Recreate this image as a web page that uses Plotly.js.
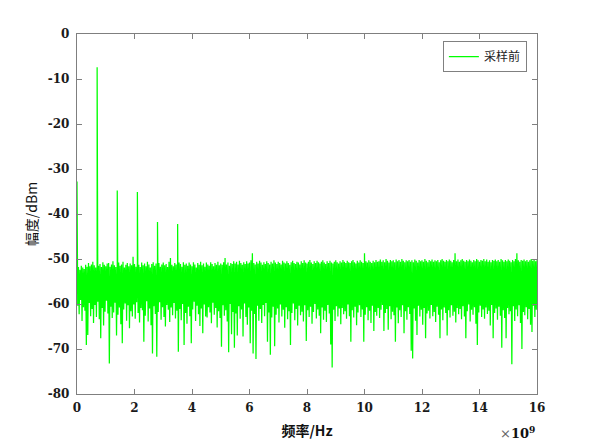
<!DOCTYPE html>
<html>
<head>
<meta charset="utf-8">
<script src="https://cdn.plot.ly/plotly-3.0.1.min.js"></script>
<style>html,body{margin:0;padding:0;background:#fff;}#chart{width:593px;height:443px;}</style>
</head>
<body>
<div id="chart"></div>
<script>
// Frequency grid step (in units of 1e9 Hz)
const freqStepGHz = 0.025;

// Noise-floor spectrum level (dBm), one value per grid step from 0 to 16
const noiseDbm = [
-52.1,-60.4,-51.8,-62.3,-52.4,-59.1,-51.5,-63.8,-51.9,-60.7,-52.2,-61.5,-51.3,-69.1,-51.7,-66.9,-50.9,-59.8,-51.6,-62.7,
-51.2,-61.1,-50.6,-64.2,-51.4,-60.2,-51.9,-62.9,-50.8,-59.5,-51.5,-63.4,-51.1,-67.6,-51.8,-60.9,-50.7,-64.8,-51.3,-61.7,
-51.6,-59.3,-51.0,-62.1,-50.9,-73.2,-51.7,-60.6,-51.2,-63.1,-50.5,-61.9,-51.4,-59.7,-51.8,-67.0,-51.1,-62.4,-50.8,-60.8,
-51.5,-64.5,-51.2,-68.7,-50.6,-61.2,-51.9,-59.9,-51.3,-63.7,-50.9,-60.3,-51.6,-65.4,-51.0,-61.6,-51.4,-62.8,-49.5,-60.1,
-51.1,-63.3,-51.7,-59.6,-50.7,-62.0,-51.3,-64.1,-51.8,-60.9,-50.8,-61.4,-51.4,-68.4,-51.0,-62.6,-51.6,-59.4,-50.6,-63.9,
-51.2,-61.0,-51.9,-64.7,-51.1,-71.0,-50.7,-60.5,-51.5,-62.2,-51.0,-71.7,-51.3,-61.8,-50.9,-59.6,-51.7,-63.5,-51.2,-60.7,
-50.8,-62.9,-51.4,-65.0,-51.1,-60.2,-51.8,-61.3,-50.6,-64.0,-49.8,-60.8,-51.3,-62.5,-51.6,-59.8,-50.9,-63.2,-51.2,-61.5,
-51.5,-70.6,-50.8,-61.1,-51.1,-63.6,-51.7,-60.0,-50.7,-69.1,-51.3,-62.0,-51.0,-64.4,-51.5,-60.6,-50.8,-62.7,-51.2,-68.7,
-51.6,-61.2,-50.7,-59.5,-51.2,-63.8,-51.9,-60.4,-50.9,-62.3,-51.3,-64.9,-50.6,-61.0,-51.4,-66.5,-51.0,-60.1,-51.7,-62.8,
-50.8,-63.0,-51.2,-60.7,-51.5,-61.9,-50.7,-64.3,-51.1,-59.7,-51.6,-62.4,-50.9,-60.9,-51.3,-65.2,-50.6,-61.6,-51.4,-63.1,
-51.0,-69.5,-51.3,-60.3,-50.7,-62.6,-49.8,-61.4,-51.2,-63.9,-50.8,-70.7,-51.5,-60.0,-50.9,-66.7,-51.1,-61.8,-50.5,-69.7,
-51.0,-62.1,-50.6,-67.0,-51.2,-60.5,-50.4,-63.3,-50.9,-61.2,-51.3,-67.2,-50.7,-59.9,-51.1,-62.9,-50.5,-64.6,-51.0,-60.8,
-50.8,-68.7,-50.3,-61.5,-48.7,-71.0,-50.9,-62.2,-51.2,-72.2,-50.6,-60.4,-51.0,-63.7,-50.4,-61.1,-50.8,-64.2,-51.3,-60.2,
-50.7,-62.7,-51.1,-59.8,-50.5,-68.4,-50.9,-61.9,-51.2,-71.3,-50.6,-63.0,-51.0,-60.6,-50.3,-69.4,-50.8,-62.4,-51.1,-61.0,
-50.6,-64.1,-50.9,-60.1,-51.2,-62.8,-50.4,-61.3,-50.8,-65.3,-51.0,-60.7,-50.5,-63.4,-50.9,-61.6,-51.3,-69.1,-50.7,-62.0,
-50.4,-59.9,-50.9,-63.6,-51.1,-61.1,-50.6,-64.8,-50.8,-60.4,-51.2,-62.5,-50.5,-61.7,-50.9,-63.9,-50.3,-60.3,-50.8,-68.2,
-51.0,-61.4,-50.6,-62.9,-50.2,-60.6,-50.8,-64.4,-51.1,-61.8,-50.5,-60.0,-50.9,-63.2,-50.4,-61.2,-50.7,-62.6,-51.0,-66.5,
-50.6,-60.8,-50.3,-63.5,-50.8,-61.5,-51.1,-64.0,-50.5,-60.2,-50.9,-62.1,-50.4,-69.0,-50.8,-74.1,-51.0,-61.3,-50.6,-63.8,
-50.3,-60.5,-50.7,-62.8,-51.0,-61.0,-50.5,-64.5,-50.8,-60.9,-50.2,-62.3,-50.6,-61.6,-50.9,-63.3,-50.4,-60.1,-50.7,-62.7,
-50.9,-68.4,-50.5,-61.4,-50.2,-63.0,-50.7,-60.6,-51.0,-64.7,-50.4,-61.9,-50.8,-60.3,-50.3,-62.9,-50.6,-61.2,-50.9,-68.4,
-48.7,-62.4,-50.5,-60.7,-50.8,-63.6,-50.3,-61.5,-50.6,-64.2,-50.9,-60.4,-50.4,-66.0,-50.7,-61.8,-50.2,-62.6,-50.6,-60.9,
-50.5,-63.1,-50.1,-61.3,-50.6,-60.2,-50.3,-66.0,-50.7,-62.0,-50.0,-61.1,-50.4,-65.7,-50.8,-60.5,-50.2,-63.4,-50.5,-61.7,
-50.3,-62.5,-50.7,-68.4,-50.1,-60.8,-50.5,-64.3,-50.2,-61.4,-50.6,-62.9,-50.0,-60.3,-50.4,-66.5,-50.7,-61.6,-50.3,-63.5,
-50.5,-60.7,-50.2,-62.2,-50.6,-70.4,-50.3,-72.1,-50.7,-61.0,-50.1,-63.7,-50.4,-66.9,-50.8,-60.4,-50.2,-62.8,-50.5,-61.3,
-50.3,-64.6,-50.6,-60.9,-50.0,-67.6,-50.4,-62.1,-50.7,-61.5,-50.2,-63.2,-50.5,-60.2,-50.1,-62.7,-50.6,-61.8,-50.3,-64.0,
-50.5,-60.6,-50.2,-62.4,-50.7,-67.6,-50.3,-61.2,-50.0,-63.6,-50.4,-60.8,-50.6,-62.0,-50.2,-67.0,-50.5,-61.4,-50.1,-63.0,
-50.4,-60.3,-50.7,-62.6,-50.2,-61.7,-48.7,-64.1,-50.5,-60.9,-50.1,-62.3,-50.6,-61.1,-50.3,-63.4,-50.0,-60.5,-50.4,-62.8,
-50.6,-67.6,-50.2,-61.6,-50.5,-60.1,-50.1,-63.9,-50.4,-61.3,-50.7,-62.4,-50.2,-60.7,-50.5,-64.4,-50.0,-69.1,-50.3,-61.9,
-50.6,-60.4,-50.2,-62.9,-50.4,-61.2,-50.0,-63.3,-50.5,-60.8,-50.1,-62.2,-50.6,-61.5,-50.3,-64.8,-50.7,-60.2,-50.2,-67.6,
-50.4,-62.0,-50.1,-61.0,-50.5,-63.5,-50.2,-60.6,-50.6,-62.6,-50.0,-69.7,-50.3,-61.4,-50.6,-63.1,-50.2,-67.6,-50.5,-60.9,
-50.1,-62.3,-50.4,-61.6,-50.7,-73.4,-50.2,-60.5,-50.5,-63.8,-50.0,-61.2,-48.7,-62.7,-50.3,-60.3,-50.6,-64.2,-50.2,-70.0,
-50.4,-61.8,-50.1,-62.5,-50.5,-60.7,-50.2,-63.4,-50.6,-61.1,-50.3,-64.6,-50.0,-66.2,-50.4,-60.4,-50.2,-62.9,-50.5,-61.3,
-50.3
];

// Discrete spectral lines (frequency in 1e9 Hz, level in dBm)
const spikeFreqGHz = [0, 0.7, 1.4, 2.1, 2.8, 3.5];
const spikeLevelDbm = [-32.8, -7.4, -34.8, -35.1, -41.8, -42.2];

// Axis ticks
const xTickVals = [0, 2, 4, 6, 8, 10, 12, 14, 16];
const yTickVals = [-80, -70, -60, -50, -40, -30, -20, -10, 0];

const seriesName = '采样前';
const xTitle = '频率/Hz';
const yTitle = '幅度/dBm';

// merge noise grid with spectral lines (spike inserted right after the grid point at the same frequency)
const pts = [];
noiseDbm.forEach((v, i) => pts.push({f: Math.round(i * freqStepGHz * 1000) / 1000, v: v, k: 0}));
spikeFreqGHz.forEach((f, j) => pts.push({f: f, v: spikeLevelDbm[j], k: 1}));
pts.sort((a, b) => (a.f - b.f) || (a.k - b.k));
const xs = pts.map(p => p.f);
const ys = pts.map(p => p.v);

const tickFont = {family: 'DejaVu Serif, Liberation Serif, serif', size: 12, color: '#1a1a1a', weight: 'bold'};
const axisCommon = {
  showline: true, linecolor: '#7f7f7f', linewidth: 1.2, mirror: 'ticks',
  ticks: 'inside', ticklen: 5, tickcolor: '#7f7f7f', tickwidth: 1,
  showgrid: false, zeroline: false, tickfont: tickFont, fixedrange: true
};

const trace = {
  x: xs, y: ys, type: 'scatter', mode: 'lines', name: seriesName,
  line: {color: '#00ff00', width: 1.25}, showlegend: true, hoverinfo: 'skip'
};

const layout = {
  width: 593, height: 443,
  margin: {l: 77, r: 56, t: 34, b: 49},
  paper_bgcolor: '#ffffff', plot_bgcolor: '#ffffff',
  showlegend: true,
  legend: {
    x: 0.978, xanchor: 'right', y: 0.98, yanchor: 'top',
    bgcolor: '#ffffff', bordercolor: '#808080', borderwidth: 1,
    font: {family: 'Noto Sans CJK SC, sans-serif', size: 12, color: '#222'},
    itemwidth: 30, tracegroupgap: 0, entrywidth: 52, entrywidthmode: 'pixels'
  },
  xaxis: Object.assign({}, axisCommon, {
    range: [0, 16], tickvals: xTickVals, ticktext: xTickVals.map(String), ticklabelstandoff: 2,
    title: {text: xTitle, font: {family: 'Noto Sans CJK SC, sans-serif', size: 14, color: '#111', weight: 'bold'}, standoff: 12}
  }),
  yaxis: Object.assign({}, axisCommon, {
    range: [-80, 0], tickvals: yTickVals, ticktext: yTickVals.map(String), ticklabelstandoff: 4,
    title: {text: yTitle, font: {family: 'Noto Sans CJK SC, sans-serif', size: 14, color: '#111'}, standoff: 6}
  }),
  annotations: [{
    xref: 'paper', yref: 'paper', x: 1.0, y: -0.108, xanchor: 'right', yanchor: 'middle',
    showarrow: false,
    text: '<span style="color:#666;font-weight:normal">×</span><b>10</b><sup><b>9</b></sup>',
    font: {family: 'DejaVu Serif, serif', size: 13, color: '#111'}
  }]
};

Plotly.newPlot('chart', [trace], layout, {staticPlot: true, displayModeBar: false});
</script>
</body>
</html>
